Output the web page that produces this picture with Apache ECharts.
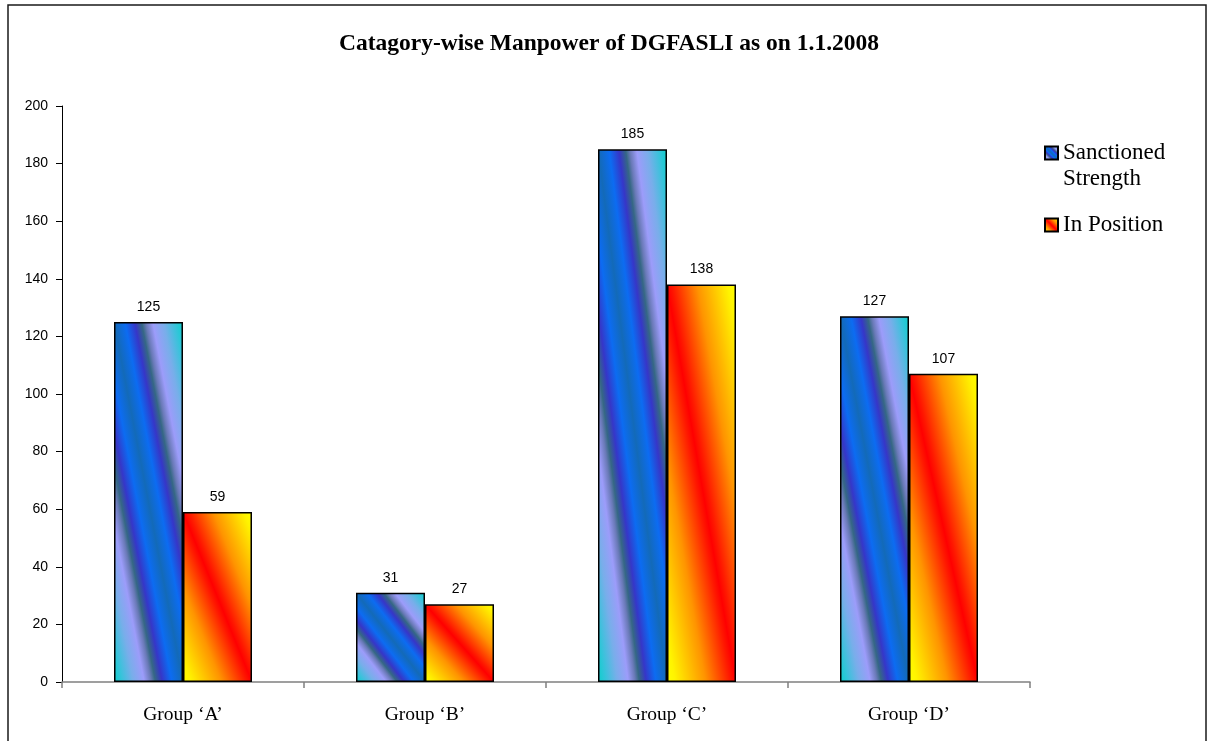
<!DOCTYPE html>
<html>
<head>
<meta charset="utf-8">
<script src="https://cdn.jsdelivr.net/npm/echarts@6/dist/echarts.min.js"></script>
<style>
html,body{margin:0;padding:0;background:#fff;}
#chart{width:1209px;height:741px;}
</style>
</head>
<body>
<div id="chart"></div>
<script>
var categories = ['Group \u2018A\u2019', 'Group \u2018B\u2019', 'Group \u2018C\u2019', 'Group \u2018D\u2019'];
var sanctioned = [125, 31, 185, 127];
var inPosition = [59, 27, 138, 107];
var seriesNames = ['Sanctioned Strength', 'In Position'];
var yTicks = {min: 0, max: 200, interval: 20};

var PLOT_H = 576, BAR_W = 69;

var blueHalf = [
  [0.00, '#0ccfcc'], [0.05, '#2ec6d8'], [0.14, '#78aeea'], [0.22, '#9c9cfa'],
  [0.27, '#6a7ab8'], [0.30, '#356884'], [0.35, '#3636c8'], [0.42, '#0c6cf2'], [0.5, '#136ab8']
];
var redHalf = [
  [0.00, '#ffff00'], [0.06, '#fff400'], [0.28, '#ff9400'], [0.46, '#ff1800'], [0.5, '#ff0000']
];
function mirror(half) {
  var out = half.map(function (s) { return {offset: s[0], color: s[1]}; });
  for (var i = half.length - 2; i >= 0; i--) out.push({offset: 1 - half[i][0], color: half[i][1]});
  return out;
}
function grad(v, half) {
  var h = v / yTicks.max * PLOT_H, w = BAR_W;
  var L2 = h * h + w * w;
  return new echarts.graphic.LinearGradient(1, 0, 1 - 2 * h * h / L2, 2 * w * w / L2, mirror(half));
}
function items(vals, half) {
  return vals.map(function (v) { return {value: v, itemStyle: {color: grad(v, half)}}; });
}

var chart = echarts.init(document.getElementById('chart'), null, {renderer: 'canvas'});
chart.setOption({
  backgroundColor: '#ffffff',
  animation: false,
  graphic: [{
    type: 'rect', silent: true, z: -1,
    shape: {x: 8, y: 5, width: 1198, height: 780},
    style: {fill: 'none', stroke: '#1a1a1a', lineWidth: 1.5}
  }],
  title: {
    text: 'Catagory-wise Manpower of DGFASLI as on 1.1.2008',
    left: 339, top: 32, padding: 0,
    textStyle: {fontFamily: 'Liberation Serif', fontWeight: 'bold', fontSize: 23.5, color: '#000'}
  },
  legend: {
    orient: 'vertical', left: 1044, top: 114, padding: 0,
    itemWidth: 13, itemHeight: 13, itemGap: 20,
    icon: 'rect',
    selectedMode: false,
    textStyle: {fontFamily: 'Liberation Serif', fontSize: 23, color: '#000', lineHeight: 26},
    data: [seriesNames[0], seriesNames[1]],
    formatter: function (n) { return n === seriesNames[0] ? ' \nSanctioned\nStrength' : n; }
  },
  grid: {left: 62, right: 179, top: 106, bottom: 59, containLabel: false},
  xAxis: {
    type: 'category', data: categories,
    axisLine: {lineStyle: {color: '#808080', width: 1.5}},
    axisTick: {show: true, length: 6, lineStyle: {color: '#808080', width: 1.5}},
    axisLabel: {fontFamily: 'Liberation Serif', fontSize: 19.5, color: '#000', margin: 23}
  },
  yAxis: {
    type: 'value', min: yTicks.min, max: yTicks.max, interval: yTicks.interval,
    splitLine: {show: false},
    axisLine: {show: true, lineStyle: {color: '#000', width: 1}},
    axisTick: {show: true, length: 6, lineStyle: {color: '#000'}},
    axisLabel: {fontFamily: 'Liberation Sans', fontSize: 14, color: '#000', margin: 14}
  },
  series: [
    {
      name: seriesNames[0], type: 'bar', barWidth: BAR_W, barGap: '0%',
      itemStyle: {
        color: new echarts.graphic.LinearGradient(1, 0, 0, 1, mirror(blueHalf)),
        borderColor: '#000', borderWidth: 1.5
      },
      label: {show: true, position: 'top', distance: 8, fontFamily: 'Liberation Sans', fontSize: 14, color: '#000'},
      data: items(sanctioned, blueHalf)
    },
    {
      name: seriesNames[1], type: 'bar', barWidth: BAR_W, barGap: '0%',
      itemStyle: {
        color: new echarts.graphic.LinearGradient(1, 0, 0, 1, mirror(redHalf)),
        borderColor: '#000', borderWidth: 1.5
      },
      label: {show: true, position: 'top', distance: 8, fontFamily: 'Liberation Sans', fontSize: 14, color: '#000'},
      data: items(inPosition, redHalf)
    }
  ]
});
</script>
</body>
</html>
